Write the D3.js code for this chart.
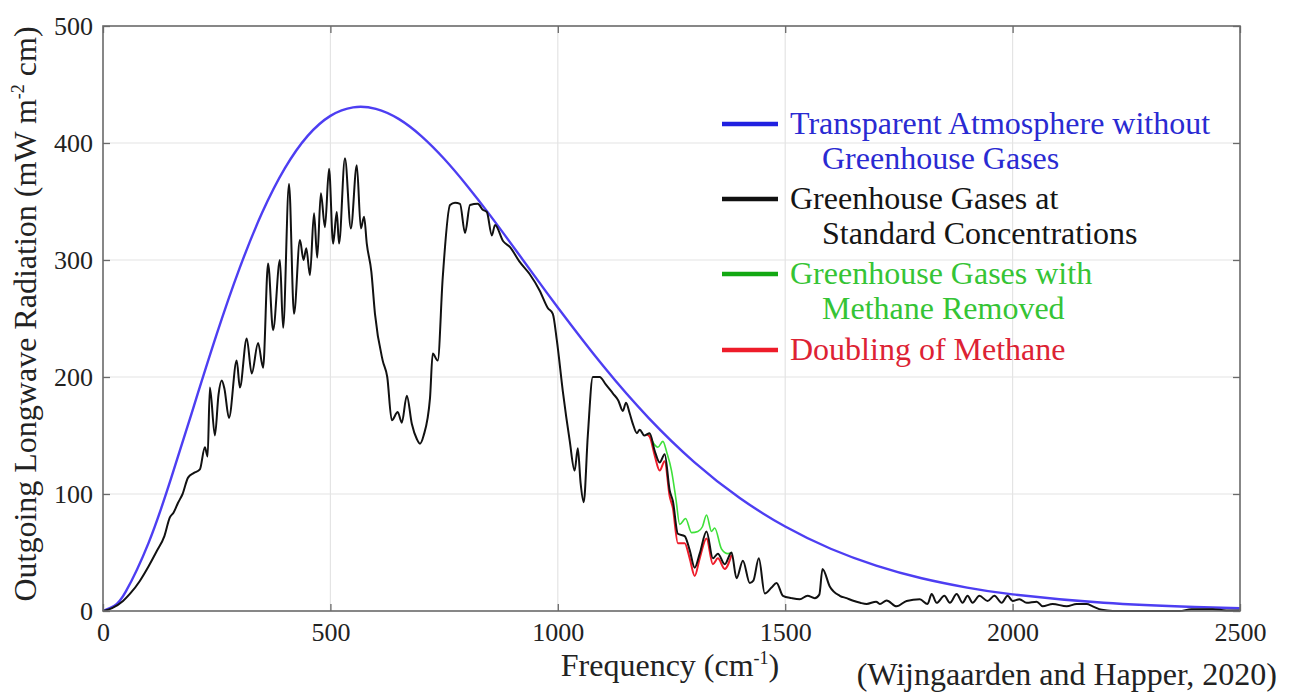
<!DOCTYPE html>
<html>
<head>
<meta charset="utf-8">
<script src="https://cdn.jsdelivr.net/npm/d3@7"></script>
<style>
  html, body { margin: 0; padding: 0; background: #fff; }
  svg { display: block; font-family: "Liberation Serif", "Times New Roman", serif; }
</style>
</head>
<body>
<div id="chart"></div>
<script>
// data {{{
const xTicks = [0, 500, 1000, 1500, 2000, 2500];
const yTicks = [0, 100, 200, 300, 400, 500];

// transparent atmosphere (blue)
const clearFreq = [0, 25, 50, 100, 150, 200, 250, 300, 350, 400, 450, 500, 550, 600, 650, 700, 750, 800, 850, 900, 950, 1000, 1100, 1200, 1300, 1400, 1500, 1600, 1700, 1800, 1900, 2000, 2200, 2400, 2500];
const clearVal = [0, 4.4, 16.5, 58, 113.7, 175.4, 236.6, 292.6, 340.5, 378.5, 406.1, 423.2, 430.5, 429.2, 420.6, 405.9, 386.5, 363.7, 338.8, 312.5, 285.8, 259.4, 209.3, 164.9, 127.3, 96.6, 72.2, 53.2, 38.8, 28.0, 20.0, 14.2, 7.0, 3.4, 2.3];

// greenhouse gases at standard concentrations (black)
const stdFreq = [0, 20, 44, 60, 81, 100, 118, 135, 147, 155, 165, 175, 187, 200, 213, 224, 230, 235, 246, 254, 261, 267, 277, 294, 301, 316, 327, 341, 352, 363, 374, 389, 396, 409, 420, 433, 441, 447, 455, 464, 471, 479, 488, 497, 506, 514, 519, 532, 545, 558, 567, 574, 580, 590, 598, 615, 625, 635, 648, 657, 668, 679, 690, 697, 705, 719, 725, 736, 747, 763, 774, 785, 796, 807, 824, 835, 844, 855, 862, 880, 895, 915, 938, 960, 978, 989, 998, 1011, 1026, 1037, 1044, 1050, 1057, 1066, 1077, 1092, 1105, 1121, 1133, 1143, 1150, 1158, 1165, 1174, 1180, 1190, 1202, 1213, 1224, 1235, 1246, 1253, 1264, 1279, 1290, 1301, 1312, 1327, 1341, 1352, 1367, 1382, 1393, 1407, 1422, 1430, 1442, 1455, 1470, 1481, 1495, 1514, 1532, 1549, 1565, 1575, 1582, 1598, 1620, 1635, 1648, 1665, 1679, 1700, 1708, 1723, 1745, 1767, 1796, 1813, 1822, 1833, 1850, 1862, 1877, 1890, 1901, 1912, 1927, 1945, 1960, 1976, 1989, 2000, 2015, 2031, 2053, 2066, 2088, 2119, 2141, 2163, 2176, 2196, 2220, 2367, 2393, 2440, 2470, 2500];
const stdVal = [0, 2.5, 8.6, 15, 25.7, 38, 51, 64, 80, 84, 92.5, 100, 114, 118, 121, 140, 132, 191, 150, 185, 197, 190, 165, 214, 191, 233, 203, 229, 208, 297, 240, 300, 242, 365, 254, 317, 300, 310, 287, 340, 302, 357, 328, 378, 314, 341, 314, 387, 327, 381, 327, 337, 314, 290, 254, 214, 200, 163, 170, 161, 184, 160, 147, 143, 150, 182, 220, 214, 285, 347, 349, 348, 323, 347, 348, 343, 341, 321, 330, 316, 311, 299, 288, 274, 259, 254, 231, 188, 146, 120, 139, 110, 93, 150, 200, 200, 194, 186, 180, 171, 178, 169, 160, 152, 155, 150, 152, 137, 127, 134, 103, 94, 66, 64, 52, 37, 49, 68, 45, 49, 40, 50, 28, 43, 24, 26, 45, 15, 20, 24, 13, 11, 10, 13, 11, 14, 36, 21, 13, 11, 9, 7, 6, 8, 6, 9, 4, 8.6, 10, 6, 14.5, 7, 13, 7, 14.5, 7, 13, 7, 13, 8.6, 13, 7, 13, 8.6, 10, 7, 8, 4, 6, 4, 6, 6, 4, 1, 0, 0, 1.5, 1.5, 0.5, 0.5];

// methane removed (green)
const noCh4Freq = [1200, 1213, 1220, 1231, 1240, 1250, 1260, 1268, 1281, 1294, 1308, 1318, 1327, 1338, 1345, 1360, 1374, 1382];
const noCh4Val = [152, 142, 140, 145, 135, 120, 95, 74, 79, 67, 68, 72, 82, 68, 71, 53, 49, 50];

// doubled methane (red)
const dblCh4Freq = [1195, 1202, 1213, 1224, 1235, 1246, 1253, 1264, 1279, 1290, 1301, 1312, 1327, 1341, 1352, 1367, 1382];
const dblCh4Val = [151, 149, 133, 120, 128, 98, 88, 58, 58, 45, 30, 45, 62, 40, 45, 36, 48];

const legendLines = [
  ["Transparent Atmosphere without", "Greenhouse Gases"],
  ["Greenhouse Gases at", "Standard Concentrations"],
  ["Greenhouse Gases with", "Methane Removed"],
  ["Doubling of Methane"]
];
//}}}
// consts {{{
const W = 1290, H = 693;
const plotL = 103, plotR = 1240, plotT = 26, plotB = 611;
const curveColors = ["#4d3ef2", "#111111", "#3fe03a", "#ee1c2a"];
const keyColors = ["#2020e0", "#111111", "#12a812", "#ee1c2a"];
const textColors = ["#2a2ad2", "#151515", "#35c435", "#dd2233"];
const axisColor = "#6a6a6a";
const gridColor = "#e4e4e4";

const svg = d3.select("#chart").append("svg")
    .attr("width", W)
    .attr("height", H);

const x = d3.scaleLinear().domain([0, 2500]).range([plotL, plotR]);
const y = d3.scaleLinear().domain([0, 500]).range([plotB, plotT]);
//}}}
// grid {{{
svg.append("g").selectAll("line").data(xTicks.slice(1, -1)).enter().append("line")
    .attr("x1", d => x(d)).attr("x2", d => x(d))
    .attr("y1", plotT).attr("y2", plotB)
    .attr("stroke", gridColor).attr("stroke-width", 1.2);
svg.append("g").selectAll("line").data(yTicks.slice(1, -1)).enter().append("line")
    .attr("x1", plotL).attr("x2", plotR)
    .attr("y1", d => y(d)).attr("y2", d => y(d))
    .attr("stroke", gridColor).attr("stroke-width", 1.2);
//}}}
// curves {{{
function zip(f, v) { return f.map((d, i) => [d, v[i]]); }
const spiky = d3.line().x(d => x(d[0])).y(d => y(d[1])).curve(d3.curveMonotoneX);
const smooth = d3.line().x(d => x(d[0])).y(d => y(d[1])).curve(d3.curveNatural);

const series = [
  {pts: zip(clearFreq, clearVal), color: curveColors[0], w: 2.4, gen: smooth},
  {pts: zip(noCh4Freq, noCh4Val), color: curveColors[2], w: 1.6, gen: spiky},
  {pts: zip(dblCh4Freq, dblCh4Val), color: curveColors[3], w: 2, gen: spiky},
  {pts: zip(stdFreq, stdVal), color: curveColors[1], w: 2, gen: spiky}
];
series.forEach(s => {
  svg.append("path")
    .datum(s.pts)
    .attr("d", s.gen)
    .attr("fill", "none")
    .attr("stroke", s.color)
    .attr("stroke-width", s.w)
    .attr("stroke-linejoin", "round");
});
//}}}
// axes {{{
function styleAxis(g) {
  g.select(".domain").remove();
  g.selectAll(".tick line").attr("stroke", axisColor).attr("stroke-width", 1.3);
  g.selectAll("text")
    .attr("fill", "#222")
    .style("font-family", "'Liberation Serif', serif")
    .style("font-size", "26px");
}
svg.append("g").attr("transform", "translate(0," + plotB + ")")
  .call(d3.axisBottom(x).tickValues(xTicks).tickSize(-7).tickPadding(12).tickFormat(d3.format("d")))
  .call(styleAxis);
svg.append("g").attr("transform", "translate(0," + plotT + ")")
  .call(d3.axisTop(x).tickValues(xTicks).tickSize(-7).tickFormat(""))
  .call(styleAxis);
svg.append("g").attr("transform", "translate(" + plotL + ",0)")
  .call(d3.axisLeft(y).tickValues(yTicks).tickSize(-7).tickPadding(10).tickFormat(d3.format("d")))
  .call(styleAxis);
svg.append("g").attr("transform", "translate(" + plotR + ",0)")
  .call(d3.axisRight(y).tickValues(yTicks).tickSize(-7).tickFormat(""))
  .call(styleAxis);

svg.append("rect")
  .attr("x", plotL).attr("y", plotT)
  .attr("width", plotR - plotL).attr("height", plotB - plotT)
  .attr("fill", "none").attr("stroke", axisColor).attr("stroke-width", 1.6);
//}}}
// titles {{{
const xt = svg.append("text")
  .attr("x", 670).attr("y", 676)
  .attr("text-anchor", "middle")
  .style("font-size", "32px").attr("fill", "#222");
xt.append("tspan").text("Frequency (cm");
xt.append("tspan").attr("dy", -12).style("font-size", "18px").text("-1");
xt.append("tspan").attr("dy", 12).text(")");

const yt = svg.append("text")
  .attr("transform", "translate(36,314) rotate(-90)")
  .attr("text-anchor", "middle")
  .style("font-size", "32px").attr("fill", "#222");
yt.append("tspan").text("Outgoing Longwave Radiation (mW m");
yt.append("tspan").attr("dy", -12).style("font-size", "18px").text("-2");
yt.append("tspan").attr("dy", 12).text(" cm)");

svg.append("text")
  .attr("x", 1277).attr("y", 685)
  .attr("text-anchor", "end")
  .style("font-size", "32px").attr("fill", "#222")
  .text("(Wijngaarden and Happer, 2020)");
//}}}
// legend {{{
const keyY = [124, 199, 274, 350];
const legend = svg.append("g");
legendLines.forEach((lines, i) => {
  legend.append("line")
    .attr("x1", 722).attr("x2", 778)
    .attr("y1", keyY[i]).attr("y2", keyY[i])
    .attr("stroke", keyColors[i]).attr("stroke-width", 4.5);
  lines.forEach((t, j) => {
    legend.append("text")
      .attr("x", j === 0 ? 790 : 822)
      .attr("y", keyY[i] + 10 + j * 35)
      .style("font-size", "32px")
      .attr("fill", textColors[i])
      .text(t);
  });
});
//}}}
</script>
</body>
</html>
